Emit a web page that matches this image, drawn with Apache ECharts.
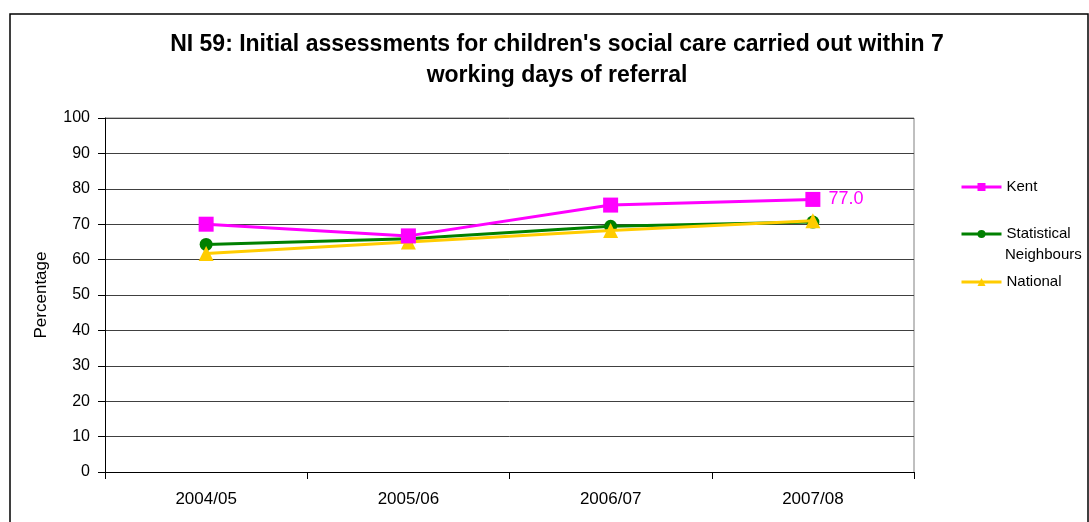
<!DOCTYPE html>
<html>
<head>
<meta charset="utf-8">
<script src="https://cdn.jsdelivr.net/npm/echarts@6/dist/echarts.min.js"></script>
<style>
  html, body { margin: 0; padding: 0; background: #fff; }
  #chart { width: 1089px; height: 522px; }
</style>
</head>
<body>
<div id="chart"></div>
<script>
var years = ['2004/05', '2005/06', '2006/07', '2007/08'];
var kent = [70.0, 66.7, 75.4, 77.0];
var neighbours = [64.3, 65.9, 69.4, 70.6];
var national = [61.7, 65.0, 68.2, 71.0];
var yTicks = [0, 10, 20, 30, 40, 50, 60, 70, 80, 90, 100];

var myChart = echarts.init(document.getElementById('chart'));
var font = 'Liberation Sans, Arial, sans-serif';

// one legend per entry so each can sit at its own height
function legendFor(name, centerY, label) {
    return {
        data: [name],
        left: 960,
        top: centerY - 9,
        padding: 0,
        orient: 'vertical',
        itemWidth: 40,
        itemHeight: 10,
        itemGap: 0,
        selectedMode: false,
        lineStyle: { width: 3 },
        textStyle: { fontFamily: font, fontSize: 15, color: '#000', lineHeight: 18 },
        formatter: function () { return label; }
    };
}

var option = {
    animation: false,
    backgroundColor: '#fff',
    graphic: [
        {
            type: 'rect',
            shape: { x: 10, y: 14, width: 1078, height: 520 },
            style: { fill: 'none', stroke: '#000', lineWidth: 1.5 },
            silent: true
        },
        {
            type: 'text',
            x: 557, y: 45,
            style: {
                text: "NI 59: Initial assessments for children's social care carried out within 7",
                fontFamily: font, fontSize: 23, fontWeight: 'bold',
                fill: '#000', align: 'center', verticalAlign: 'middle'
            }
        },
        {
            type: 'text',
            x: 557, y: 76,
            style: {
                text: 'working days of referral',
                fontFamily: font, fontSize: 23, fontWeight: 'bold',
                fill: '#000', align: 'center', verticalAlign: 'middle'
            }
        },
        {
            // second line of the neighbours legend label
            type: 'text',
            x: 1005, y: 255,
            style: {
                text: 'Neighbours',
                fontFamily: font, fontSize: 15,
                fill: '#000', align: 'left', verticalAlign: 'middle'
            }
        },
        {
            // plot area top/right border
            type: 'polyline',
            shape: { points: [[105, 118], [914, 118], [914, 472]] },
            style: { stroke: '#808080', lineWidth: 1, fill: 'none' },
            silent: true
        }
    ],
    legend: [
        legendFor('Kent', 187, 'Kent'),
        legendFor('Statistical Neighbours', 234, 'Statistical'),
        legendFor('National', 282, 'National')
    ],
    grid: { left: 105, top: 118, right: 175, bottom: 50 },
    xAxis: {
        type: 'category',
        data: years,
        boundaryGap: true,
        axisLine: { lineStyle: { color: '#000', width: 1 } },
        axisTick: { show: true, length: 7, lineStyle: { color: '#000' } },
        axisLabel: { fontFamily: font, fontSize: 17, color: '#000', margin: 19 },
        splitLine: { show: false }
    },
    yAxis: {
        type: 'value',
        min: 0,
        max: 100,
        interval: 10,
        name: 'Percentage',
        nameLocation: 'middle',
        nameGap: 55,
        nameTextStyle: { fontFamily: font, fontSize: 17, color: '#000' },
        axisLine: { show: true, lineStyle: { color: '#000', width: 1 } },
        axisTick: { show: true, length: 7, lineStyle: { color: '#000' } },
        axisLabel: {
            fontFamily: font, fontSize: 16, color: '#000', margin: 15,
            formatter: function (v) { return yTicks.indexOf(v) >= 0 ? String(v) : ''; }
        },
        splitLine: { lineStyle: { color: '#404040', width: 1 } }
    },
    series: [
        {
            name: 'Kent',
            type: 'line',
            data: kent,
            symbol: 'rect',
            symbolSize: 15,
            lineStyle: { color: '#FF00FF', width: 3 },
            itemStyle: { color: '#FF00FF' },
            label: {
                show: true,
                position: 'right',
                distance: 8,
                fontFamily: font,
                fontSize: 18,
                color: '#FF00FF',
                formatter: function (p) {
                    return p.dataIndex === kent.length - 1 ? p.value.toFixed(1) : '';
                }
            },
            z: 4
        },
        {
            name: 'Statistical Neighbours',
            type: 'line',
            data: neighbours,
            symbol: 'circle',
            symbolSize: 13,
            lineStyle: { color: '#008000', width: 3 },
            itemStyle: { color: '#008000' },
            z: 2
        },
        {
            name: 'National',
            type: 'line',
            data: national,
            symbol: 'triangle',
            symbolSize: 15,
            lineStyle: { color: '#FFCC00', width: 3 },
            itemStyle: { color: '#FFCC00' },
            z: 3
        }
    ]
};
myChart.setOption(option);
</script>
</body>
</html>
